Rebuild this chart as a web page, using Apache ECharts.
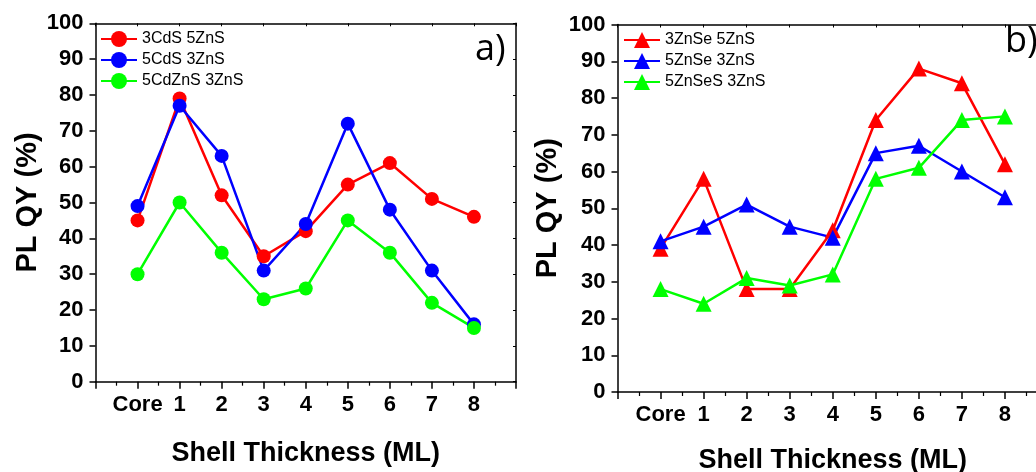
<!DOCTYPE html>
<html>
<head>
<meta charset="utf-8">
<script src="https://cdn.jsdelivr.net/npm/echarts@6/dist/echarts.min.js"></script>
<style>
  html, body { margin: 0; padding: 0; background: #fff; overflow: hidden; width: 1036px; height: 472px; }
  #chart { width: 1050px; height: 472px; }
</style>
</head>
<body>
<div id="chart"></div>
<script>
// Shell thickness steps (x positions 0..8)
const xTickLabels = ['Core', '1', '2', '3', '4', '5', '6', '7', '8'];

// Panel a) CdS / CdZnS shells
const namesA = ['3CdS 5ZnS', '5CdS 3ZnS', '5CdZnS 3ZnS'];
const cds3zns5 = [45, 79, 52, 35, 42, 55, 61, 51, 46];
const cds5zns3 = [49, 77, 63, 31, 44, 72, 48, 31, 16];
const cdzns5zns3 = [30, 50, 36, 23, 26, 45, 36, 22, 15];

// Panel b) ZnSe / ZnSeS shells
const namesB = ['3ZnSe 5ZnS', '5ZnSe 3ZnS', '5ZnSeS 3ZnS'];
const znse3zns5 = [39, 58, 28, 28, 44, 74, 88, 84, 62];
const znse5zns3 = [41, 45, 51, 45, 42, 65, 67, 60, 53];
const znses5zns3 = [28, 24, 31, 29, 32, 58, 61, 74, 75];

const colors = ['#ff0000', '#0000ff', '#00ff00'];
const FONT = '"Liberation Sans", Arial, sans-serif';

function toPoints(values) {
  return values.map((v, i) => [i, v]);
}

function bottomAxis(gridIndex, nameGap) {
  return {
    type: 'value', gridIndex, position: 'bottom',
    min: -1, max: 9, interval: 1,
    name: 'Shell Thickness (ML)', nameLocation: 'middle', nameGap,
    nameTextStyle: { fontFamily: FONT, fontWeight: 'bold', fontSize: 27, color: '#000' },
    axisLine: { onZero: false, lineStyle: { color: '#000', width: 1.5 } },
    axisTick: { inside: false, length: 7, lineStyle: { color: '#000', width: 1.5 } },
    minorTick: { show: true, splitNumber: 2, length: 4, lineStyle: { color: '#000', width: 1.2 } },
    axisLabel: {
      margin: 12, fontFamily: FONT, fontWeight: 'bold', fontSize: 22, color: '#000',
      showMinLabel: true, showMaxLabel: true,
      formatter: v => { const s = xTickLabels[Math.round(v)]; return s === undefined ? '' : s; }
    },
    splitLine: { show: false }
  };
}

function topAxis(gridIndex) {
  return {
    type: 'value', gridIndex, position: 'top',
    min: -1, max: 9, interval: 1,
    axisLine: { onZero: false, lineStyle: { color: '#000', width: 1.5 } },
    axisTick: { inside: true, length: 3, lineStyle: { color: '#000', width: 1 } },
    axisLabel: { show: false },
    splitLine: { show: false }
  };
}

function leftAxis(gridIndex, nameGap) {
  return {
    type: 'value', gridIndex, position: 'left',
    min: 0, max: 100, interval: 10,
    name: 'PL QY (%)', nameLocation: 'middle', nameGap,
    nameTextStyle: { fontFamily: FONT, fontWeight: 'bold', fontSize: 29, color: '#000' },
    axisLine: { show: true, onZero: false, lineStyle: { color: '#000', width: 1.5 } },
    axisTick: { show: true, inside: false, length: 6, lineStyle: { color: '#000', width: 1.5 } },
    axisLabel: { margin: 12, fontFamily: FONT, fontWeight: 'bold', fontSize: 22, color: '#000' },
    splitLine: { show: false }
  };
}

function rightAxis(gridIndex) {
  return {
    type: 'value', gridIndex, position: 'right',
    min: 0, max: 100, interval: 10,
    axisLine: { show: true, onZero: false, lineStyle: { color: '#000', width: 1.5 } },
    axisTick: { show: true, inside: true, length: 3, lineStyle: { color: '#000', width: 1 } },
    axisLabel: { show: false },
    splitLine: { show: false }
  };
}

function lineSeries(name, values, color, symbol, size, axisIndex) {
  return {
    type: 'line', name,
    xAxisIndex: axisIndex, yAxisIndex: axisIndex,
    data: toPoints(values),
    symbol, symbolSize: size,
    lineStyle: { color, width: 2.5 },
    itemStyle: { color, borderWidth: 0 },
    emphasis: { disabled: true }
  };
}

function legendBox(names, left, top) {
  return {
    data: names, orient: 'vertical', left, top,
    itemWidth: 36, itemHeight: 20, itemGap: 5, padding: 0,
    textStyle: { fontFamily: FONT, fontSize: 16, color: '#000', lineHeight: 16 },
    selectedMode: false
  };
}

const chart = echarts.init(document.getElementById('chart'), null, { renderer: 'canvas' });
chart.setOption({
  animation: false,
  backgroundColor: '#fff',
  grid: [
    { left: 95.5, top: 23.3, width: 420.5, height: 358.4, containLabel: false, outerBoundsMode: 'none' },
    { left: 617.5, top: 24.5, width: 430.5, height: 367.5, containLabel: false, outerBoundsMode: 'none' }
  ],
  xAxis: [bottomAxis(0, 58), topAxis(0), bottomAxis(1, 55), topAxis(1)],
  yAxis: [leftAxis(0, 51), rightAxis(0), leftAxis(1, 55), rightAxis(1)],
  legend: [legendBox(namesA, 100, 31), legendBox(namesB, 623, 32)],
  series: [
    lineSeries(namesA[0], cds3zns5, colors[0], 'circle', 14, 0),
    lineSeries(namesA[1], cds5zns3, colors[1], 'circle', 14, 0),
    lineSeries(namesA[2], cdzns5zns3, colors[2], 'circle', 14, 0),
    lineSeries(namesB[0], znse3zns5, colors[0], 'triangle', 16, 2),
    lineSeries(namesB[1], znse5zns3, colors[1], 'triangle', 16, 2),
    lineSeries(namesB[2], znses5zns3, colors[2], 'triangle', 16, 2)
  ],
  graphic: [
    { type: 'text', left: 475, top: 32, style: { text: 'a)', font: '36px "Open Sans", sans-serif', fill: '#000' } },
    { type: 'text', left: 1005, top: 24, style: { text: 'b)', font: '36px "Open Sans", sans-serif', fill: '#000' } }
  ]
});
</script>
</body>
</html>
